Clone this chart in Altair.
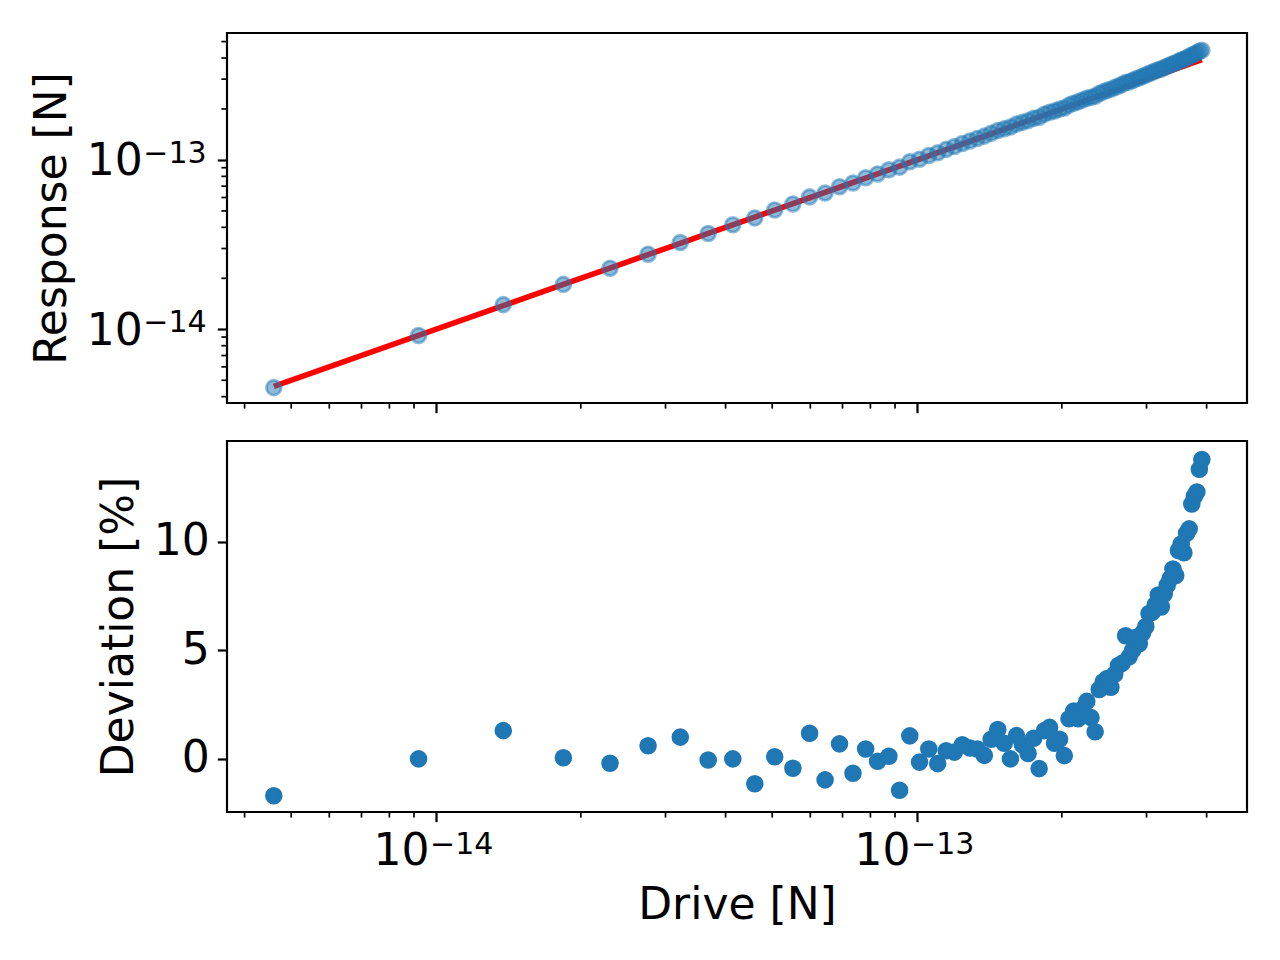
import altair as alt
import pandas as pd

# ---- data ----
# Drive values (in units of 1e-15 N)
drive_fN = [4.6, 9.2, 13.8, 18.4, 23.0, 27.6, 32.2, 36.8, 41.4, 46.0,
            50.6, 55.2, 59.8, 64.4, 69.0, 73.6, 78.2, 82.8, 87.4, 92.0,
            96.6, 101.2, 105.8, 110.4, 115.0, 119.6, 124.2, 128.8, 133.4, 138.0,
            142.6, 147.2, 151.8, 156.4, 161.0, 165.6, 170.2, 174.8, 179.4, 184.0,
            188.6, 193.2, 197.8, 202.4, 207.0, 211.6, 216.2, 220.8, 225.4, 230.0,
            234.6, 239.2, 243.8, 248.4, 253.0, 257.6, 262.2, 266.8, 271.4, 276.0,
            280.6, 285.2, 289.8, 294.4, 299.0, 303.6, 308.2, 312.8, 317.4, 322.0,
            326.6, 331.2, 335.8, 340.4, 345.0, 349.6, 354.2, 358.8, 363.4, 368.0,
            372.6, 377.2, 381.8, 386.4, 391.0]

# Deviation of response from the fit [%]
deviation_pct = [-1.7, 0.0, 1.3, 0.05, -0.2, 0.6, 1.0, -0.05, 0.0, -1.15,
                 0.1, -0.43, 1.18, -0.97, 0.69, -0.66, 0.45, -0.11, 0.12, -1.45,
                 1.06, -0.15, 0.45, -0.22, 0.37, 0.31, 0.65, 0.5, 0.45, 0.16,
                 0.9, 1.35, 0.72, 0.0, 1.07, 0.65, 0.25, 0.95, -0.45, 1.3,
                 1.45, 0.72, 0.9, 0.15, 1.85, 2.2, 1.85, 2.3, 2.65, 1.9,
                 1.25, 3.2, 3.55, 3.7, 3.3, 3.9, 4.3, 4.4, 5.67, 4.7,
                 5.0, 5.6, 5.3, 5.8, 6.1, 6.7, 6.75, 7.1, 7.55, 7.0,
                 7.6, 8.0, 8.3, 8.75, 8.45, 9.6, 9.9, 9.5, 10.4, 10.6,
                 11.75, 12.1, 12.3, 13.35, 13.8]

# axis tick positions and labels
log_major = [1e-14, 1e-13]
log_exponents = ["\u221214", "\u221213"]
x_minor = [4e-15, 5e-15, 6e-15, 7e-15, 8e-15, 9e-15,
           2e-14, 3e-14, 4e-14, 5e-14, 6e-14, 7e-14, 8e-14, 9e-14,
           2e-13, 3e-13, 4e-13]
y_minor = [4e-15, 5e-15, 6e-15, 7e-15, 8e-15, 9e-15,
           2e-14, 3e-14, 4e-14, 5e-14, 6e-14, 7e-14, 8e-14, 9e-14,
           2e-13, 3e-13, 4e-13, 5e-13]
dev_ticks = [0, 5, 10]

x_domain = [3.677e-15, 4.853e-13]
y_top_domain = [3.67e-15, 5.62e-13]
y_bot_domain = [-2.45, 14.65]

# ---- tables ----
df = pd.DataFrame({"drive": [v * 1e-15 for v in drive_fN], "dev": deviation_pct})
df["response"] = df["drive"] * (1 + df["dev"] / 100.0)
df["fit"] = df["drive"]
xminor_df = pd.DataFrame({"v": x_minor})
yminor_df = pd.DataFrame({"v": y_minor})
sup_df = pd.DataFrame({"v": log_major, "t": log_exponents})

FONT = "DejaVu Sans"
BLUE = "#1f77b4"
W, H = 1020, 370
H2 = 371
TICK = 9.7
MINOR = 5.6
LW = 2.2
SUP = 30
Y_LABEL_PAD = 75

xscale = alt.Scale(type="log", domain=x_domain, nice=False)
ytop_scale = alt.Scale(type="log", domain=y_top_domain, nice=False)
ybot_scale = alt.Scale(domain=y_bot_domain, nice=False, zero=False)

ax_top_x = alt.Axis(values=log_major, labels=False, title=None,
                    tickSize=TICK, tickWidth=LW, domain=False, grid=False)
ax_top_y = alt.Axis(values=log_major, labelExpr="'10'", title="Response [N]",
                    tickSize=TICK, tickWidth=LW, domain=False, grid=False,
                    labelOffset=2, labelPadding=Y_LABEL_PAD, titlePadding=12)
ax_bot_x = alt.Axis(values=log_major, labelExpr="'10'", title="Drive [N]",
                    tickSize=TICK, tickWidth=LW, domain=False, grid=False,
                    labelAlign="right", labelOffset=-7,
                    labelPadding=8, titlePadding=10)
ax_bot_y = alt.Axis(values=dev_ticks, title="Deviation [%]",
                    tickSize=TICK, tickWidth=LW, domain=False, grid=False,
                    labelPadding=8, titlePadding=12)

# ---- top panel ----
top_line = alt.Chart(df).mark_line(color="red", strokeWidth=5.6).encode(
    x=alt.X("drive:Q", scale=xscale, axis=ax_top_x),
    y=alt.Y("fit:Q", scale=ytop_scale, axis=ax_top_y),
)
top_pts = alt.Chart(df).mark_circle(
    size=218, opacity=1, fill=BLUE, fillOpacity=0.5,
    stroke=BLUE, strokeOpacity=0.5, strokeWidth=2.8
).encode(
    x=alt.X("drive:Q", scale=xscale, axis=ax_top_x),
    y=alt.Y("response:Q", scale=ytop_scale, axis=ax_top_y),
)
top_xminor = alt.Chart(xminor_df).mark_rule(color="black", strokeWidth=1.7).encode(
    x=alt.X("v:Q", scale=xscale, axis=ax_top_x),
    y=alt.value(H), y2=alt.value(H + MINOR),
)
top_yminor = alt.Chart(yminor_df).mark_rule(color="black", strokeWidth=1.7).encode(
    y=alt.Y("v:Q", scale=ytop_scale, axis=ax_top_y),
    x=alt.value(0), x2=alt.value(-MINOR),
)
top_sup = alt.Chart(sup_df).mark_text(
    font=FONT, fontSize=SUP, color="black", align="left", baseline="alphabetic", dy=3
).encode(
    y=alt.Y("v:Q", scale=ytop_scale, axis=ax_top_y),
    x=alt.value(-(TICK + Y_LABEL_PAD) + 1),
    text="t:N",
)
top = alt.layer(top_line, top_pts, top_xminor, top_yminor, top_sup).properties(width=W, height=H)

# ---- bottom panel ----
bot_pts = alt.Chart(df).mark_circle(
    size=218, opacity=1, fill=BLUE, stroke=BLUE, strokeWidth=2.8
).encode(
    x=alt.X("drive:Q", scale=xscale, axis=ax_bot_x),
    y=alt.Y("dev:Q", scale=ybot_scale, axis=ax_bot_y),
)
bot_xminor = alt.Chart(xminor_df).mark_rule(color="black", strokeWidth=1.7).encode(
    x=alt.X("v:Q", scale=xscale, axis=ax_bot_x),
    y=alt.value(H2), y2=alt.value(H2 + MINOR),
)
bot_sup = alt.Chart(sup_df).mark_text(
    font=FONT, fontSize=SUP, color="black", align="left", baseline="alphabetic", dx=-6
).encode(
    x=alt.X("v:Q", scale=xscale, axis=ax_bot_x),
    y=alt.value(H2 + 42),
    text="t:N",
)
bottom = alt.layer(bot_pts, bot_xminor, bot_sup).properties(width=W, height=H2)

chart = alt.vconcat(top, bottom, spacing=24).properties(
    padding={"left": 21, "top": 23, "right": 20, "bottom": 10},
    background="white",
).configure_view(
    stroke="black", strokeWidth=LW
).configure_axis(
    labelFont=FONT, titleFont=FONT,
    labelFontSize=44, titleFontSize=44, titleFontWeight="normal",
    labelColor="black", titleColor="black", tickColor="black",
)

chart.save("out.html", embed_options={"renderer": "svg", "actions": False})
